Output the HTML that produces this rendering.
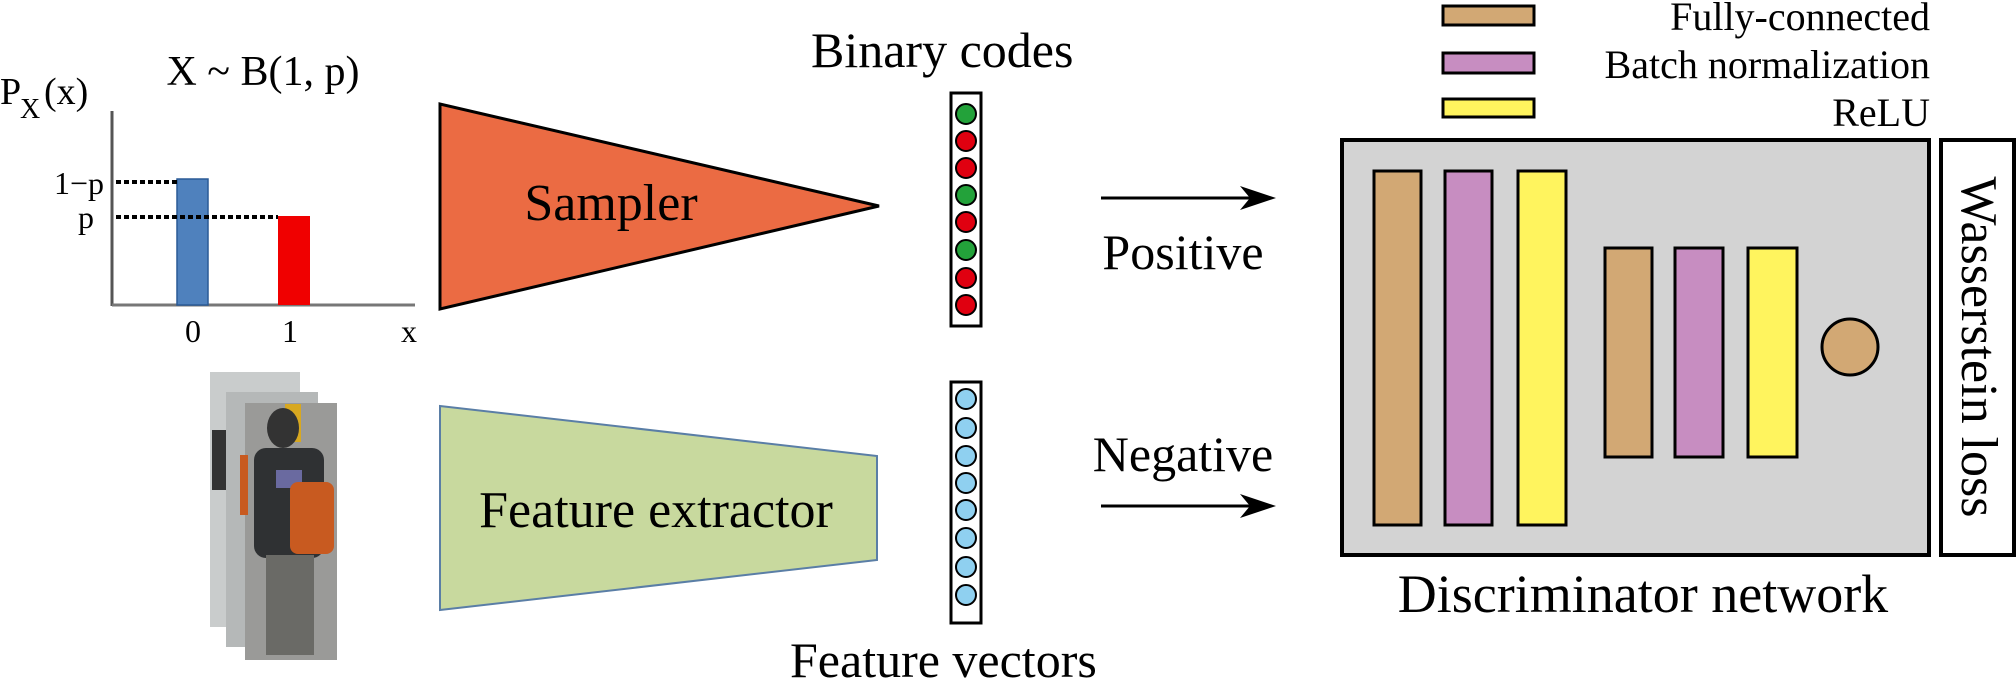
<!DOCTYPE html>
<html><head><meta charset="utf-8"><style>
html,body{margin:0;padding:0;background:#fff;}
svg{display:block;}
svg text{font-family:"Liberation Serif","Times New Roman",serif !important;fill:#000;}
</style></head><body>
<svg width="2016" height="681" viewBox="0 0 2016 681" xmlns="http://www.w3.org/2000/svg" font-family="'Liberation Serif', serif">
<!-- Bernoulli plot -->
<text x="263" y="85" font-size="42" text-anchor="middle" font-family="Liberation Serif, serif">X ~ B(1, p)</text>
<text x="0" y="104" font-size="38" font-family="Liberation Serif, serif">P</text>
<text x="20" y="118" font-size="28" font-family="Liberation Serif, serif">X</text>
<text x="44" y="104" font-size="38" font-family="Liberation Serif, serif">(x)</text>
<line x1="112" y1="111" x2="112" y2="306" stroke="#555" stroke-width="3"/>
<line x1="112" y1="305" x2="415" y2="305" stroke="#777" stroke-width="3"/>
<rect x="177" y="179" width="31" height="126" fill="#4F81BD" stroke="#2a5a96" stroke-width="1.5"/>
<rect x="278" y="216" width="32" height="89" fill="#F00000"/>
<line x1="116" y1="182" x2="177" y2="182" stroke="#000" stroke-width="4" stroke-dasharray="5,3"/>
<line x1="116" y1="217" x2="278" y2="217" stroke="#000" stroke-width="4" stroke-dasharray="5,3"/>
<text x="104" y="194" font-size="32" text-anchor="end" font-family="Liberation Serif, serif">1−p</text>
<text x="94" y="228" font-size="32" text-anchor="end" font-family="Liberation Serif, serif">p</text>
<text x="193" y="342" font-size="32" text-anchor="middle" font-family="Liberation Serif, serif">0</text>
<text x="290" y="342" font-size="32" text-anchor="middle" font-family="Liberation Serif, serif">1</text>
<text x="409" y="342" font-size="32" text-anchor="middle" font-family="Liberation Serif, serif">x</text>
<!-- Sampler -->
<polygon points="440,104 440,309 879,206" fill="#EB6B43" stroke="#000" stroke-width="3"/>
<text x="611" y="220" font-size="52" text-anchor="middle" font-family="Liberation Serif, serif">Sampler</text>
<!-- Binary codes -->
<text x="811" y="67" font-size="50" font-family="Liberation Serif, serif">Binary codes</text>
<rect x="951" y="93" width="30" height="233" fill="#fff" stroke="#000" stroke-width="3"/>
<g stroke="#000" stroke-width="2">
<circle cx="966" cy="114" r="10" fill="#23A23A"/>
<circle cx="966" cy="141" r="10" fill="#E00010"/>
<circle cx="966" cy="168" r="10" fill="#E00010"/>
<circle cx="966" cy="195" r="10" fill="#23A23A"/>
<circle cx="966" cy="222" r="10" fill="#E00010"/>
<circle cx="966" cy="250" r="10" fill="#23A23A"/>
<circle cx="966" cy="278" r="10" fill="#E00010"/>
<circle cx="966" cy="305" r="10" fill="#E00010"/>
</g>
<!-- person images -->
<rect x="210" y="372" width="90" height="255" fill="#c9cccc"/>
<rect x="212" y="430" width="22" height="60" fill="#333"/>
<rect x="226" y="392" width="92" height="255" fill="#b5b8b8"/>
<rect x="245" y="403" width="92" height="257" fill="#9a9a98"/>
<rect x="285" y="404" width="16" height="38" fill="#d8a820"/>
<ellipse cx="283" cy="428" rx="16" ry="20" fill="#333"/>
<rect x="254" y="448" width="70" height="110" rx="12" fill="#2f3133"/>
<rect x="276" y="470" width="26" height="18" fill="#6a6aa0"/>
<rect x="290" y="482" width="44" height="72" rx="8" fill="#c85a20"/>
<rect x="266" y="555" width="48" height="100" fill="#6a6a66"/>
<rect x="240" y="455" width="8" height="60" fill="#c85a20"/>
<!-- Feature extractor -->
<polygon points="440,406 877,456 877,560 440,610" fill="#C8D99E" stroke="#5A7EA6" stroke-width="2"/>
<text x="656" y="527" font-size="52" text-anchor="middle" font-family="Liberation Serif, serif">Feature extractor</text>
<rect x="951" y="382" width="30" height="241" fill="#fff" stroke="#000" stroke-width="3"/>
<g stroke="#000" stroke-width="2" fill="#8FD0F0">
<circle cx="966" cy="399" r="10"/>
<circle cx="966" cy="428" r="10"/>
<circle cx="966" cy="456" r="10"/>
<circle cx="966" cy="483" r="10"/>
<circle cx="966" cy="510" r="10"/>
<circle cx="966" cy="538" r="10"/>
<circle cx="966" cy="567" r="10"/>
<circle cx="966" cy="595" r="10"/>
</g>
<text x="790" y="677" font-size="50" font-family="Liberation Serif, serif">Feature vectors</text>
<!-- arrows -->
<line x1="1101" y1="198" x2="1255" y2="198" stroke="#000" stroke-width="3"/>
<polygon points="1276,198 1240,186 1250,198 1240,210" fill="#000"/>
<line x1="1101" y1="506" x2="1255" y2="506" stroke="#000" stroke-width="3"/>
<polygon points="1276,506 1240,494 1250,506 1240,518" fill="#000"/>
<text x="1183" y="269" font-size="50" text-anchor="middle" font-family="Liberation Serif, serif">Positive</text>
<text x="1183" y="471" font-size="50" text-anchor="middle" font-family="Liberation Serif, serif">Negative</text>
<!-- legend -->
<rect x="1443" y="6" width="91" height="19" fill="#D2A874" stroke="#000" stroke-width="3"/>
<rect x="1443" y="53" width="91" height="20" fill="#C78DC1" stroke="#000" stroke-width="3"/>
<rect x="1443" y="99" width="91" height="18" fill="#FFF45E" stroke="#000" stroke-width="3"/>
<text x="1930" y="30" font-size="40" text-anchor="end" font-family="Liberation Serif, serif">Fully-connected</text>
<text x="1930" y="78" font-size="40" text-anchor="end" font-family="Liberation Serif, serif">Batch normalization</text>
<text x="1930" y="126" font-size="40" text-anchor="end" font-family="Liberation Serif, serif">ReLU</text>
<!-- discriminator -->
<rect x="1342" y="140" width="587" height="415" fill="#D3D3D3" stroke="#000" stroke-width="4"/>
<g stroke="#000" stroke-width="3">
<rect x="1374" y="171" width="47" height="354" fill="#D2A874"/>
<rect x="1445" y="171" width="47" height="354" fill="#C78DC1"/>
<rect x="1518" y="171" width="48" height="354" fill="#FFF45E"/>
<rect x="1605" y="248" width="47" height="209" fill="#D2A874"/>
<rect x="1675" y="248" width="48" height="209" fill="#C78DC1"/>
<rect x="1748" y="248" width="49" height="209" fill="#FFF45E"/>
<circle cx="1850" cy="347" r="28" fill="#D2A874"/>
</g>
<rect x="1941" y="140" width="73" height="415" fill="#fff" stroke="#000" stroke-width="4"/>
<text transform="translate(1962,347) rotate(90)" font-size="52" text-anchor="middle" font-family="Liberation Serif, serif">Wasserstein loss</text>
<text x="1643" y="612" font-size="54" text-anchor="middle" font-family="Liberation Serif, serif">Discriminator network</text>
</svg>
</body></html>
